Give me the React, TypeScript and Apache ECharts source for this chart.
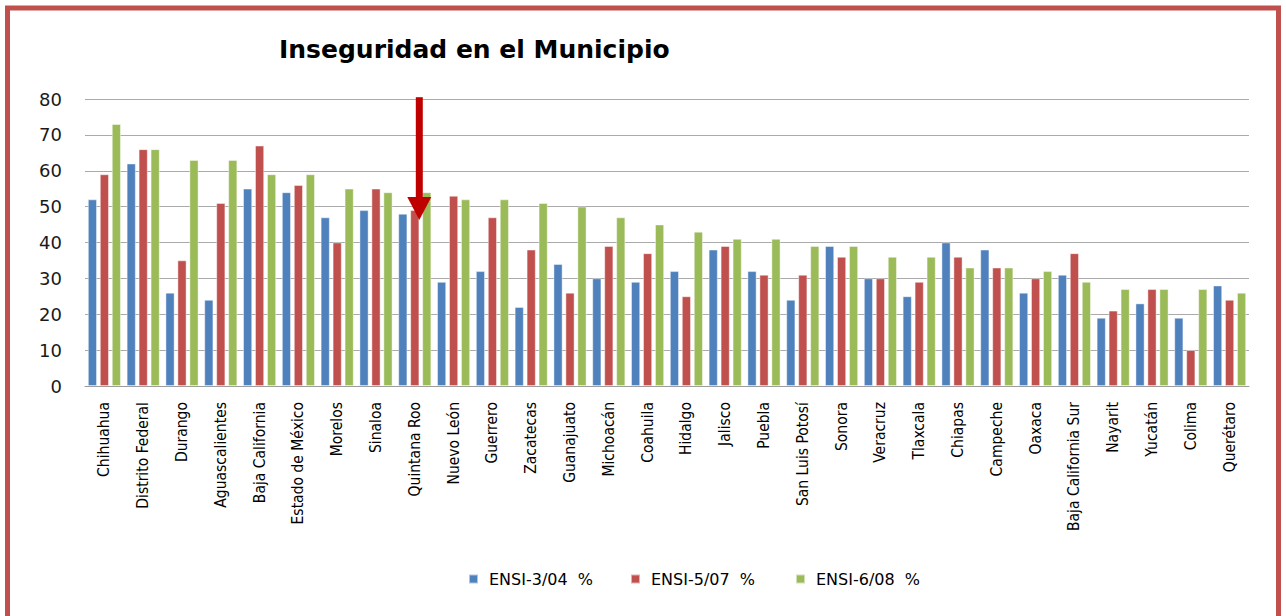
import React, { useEffect, useRef } from "react";
import * as echarts from "echarts";

const categories = [
  "Chihuahua", "Distrito Federal", "Durango", "Aguascalientes", "Baja California",
  "Estado de México", "Morelos", "Sinaloa", "Quintana Roo", "Nuevo León",
  "Guerrero", "Zacatecas", "Guanajuato", "Michoacán", "Coahuila",
  "Hidalgo", "Jalisco", "Puebla", "San Luis Potosí", "Sonora",
  "Veracruz", "Tlaxcala", "Chiapas", "Campeche", "Oaxaca",
  "Baja California Sur", "Nayarit", "Yucatán", "Colima", "Querétaro",
];
const ensi304 = [52, 62, 26, 24, 55, 54, 47, 49, 48, 29, 32, 22, 34, 30, 29, 32, 38, 32, 24, 39, 30, 25, 40, 38, 26, 31, 19, 23, 19, 28];
const ensi507 = [59, 66, 35, 51, 67, 56, 40, 55, 49, 53, 47, 38, 26, 39, 37, 25, 39, 31, 31, 36, 30, 29, 36, 33, 30, 37, 21, 27, 10, 24];
const ensi608 = [73, 66, 63, 63, 59, 59, 55, 54, 54, 52, 52, 51, 50, 47, 45, 43, 41, 41, 39, 39, 36, 36, 33, 33, 32, 29, 27, 27, 27, 26];
const seriesNames = ["ENSI-3/04  %", "ENSI-5/07  %", "ENSI-6/08  %"];
const colors = ["#4F81BD", "#C0504D", "#9BBB59"];
const arrowCategory = "Quintana Roo";

export default function App() {
  const ref = useRef<HTMLDivElement>(null);
  useEffect(() => {
    if (!ref.current) return;
    const chart = echarts.init(ref.current, null, { renderer: "svg" });
    const data = [ensi304, ensi507, ensi608];
    const legendLefts = [463, 625, 790];
    chart.setOption({
      animation: false,
      backgroundColor: "#ffffff",
      title: {
        text: "Inseguridad en el Municipio",
        left: 274,
        top: 32,
        textStyle: { fontFamily: "'DejaVu Sans', Verdana, sans-serif", fontWeight: "bold", fontSize: 25, color: "#000" },
      },
      legend: seriesNames.map((name, i) => ({
        left: legendLefts[i],
        top: 566,
        icon: "rect",
        itemWidth: 9,
        itemHeight: 9,
        data: [name],
        textStyle: { fontFamily: "'DejaVu Sans', Verdana, sans-serif", fontSize: 16, color: "#000", padding: [0, 0, 0, 6] },
      })),
      grid: { left: 85, right: 37, top: 99, bottom: 230, containLabel: false },
      xAxis: {
        type: "category",
        data: categories,
        axisLine: { lineStyle: { color: "#9C9C9C", width: 1 } },
        axisTick: { show: false },
        axisLabel: {
          rotate: 90,
          interval: 0,
          margin: 16,
          fontSize: 15.5,
          color: "#000",
          fontFamily: "'DejaVu Sans Condensed', 'Liberation Sans Narrow', 'Roboto Condensed', 'Noto Sans', sans-serif",
        },
      },
      yAxis: {
        type: "value",
        min: 0,
        max: 80,
        interval: 10,
        axisLine: { show: false },
        axisTick: { show: false },
        splitLine: { lineStyle: { color: "#AAAAAA", width: 1 } },
        axisLabel: { margin: 23, fontSize: 18, color: "#1a1a1a", fontFamily: "'DejaVu Sans', Verdana, sans-serif" },
      },
      series: seriesNames.map((name, i) => ({
        name,
        type: "bar",
        data: data[i],
        barWidth: 9,
        barGap: "33%",
        itemStyle: { color: colors[i], borderColor: "rgba(255,255,255,0.55)", borderWidth: 0.8 },
      })),
    });

    const toPx = (v: number) => chart.convertToPixel({ xAxisIndex: 0, yAxisIndex: 0 }, [arrowCategory, v]) as number[];
    const cx = toPx(0)[0] + 4.5;
    const yTop = toPx(80.5)[1];
    const yBase = toPx(52.7)[1];
    const yTip = toPx(46.3)[1];

    chart.setOption({
      graphic: [
        {
          type: "rect",
          shape: { x: 7.5, y: 8, width: 1271, height: 640 },
          style: { fill: "none", stroke: "#C0504D", lineWidth: 5 },
          silent: true,
          z: 100,
        },
        {
          type: "rect",
          shape: { x: cx - 3.5, y: yTop, width: 7, height: yBase - yTop + 1 },
          style: { fill: "#C00000" },
          z: 100,
        },
        {
          type: "polygon",
          shape: { points: [[cx - 12, yBase], [cx + 12, yBase], [cx, yTip]] },
          style: { fill: "#C00000" },
          z: 100,
        },
      ],
    });
    return () => chart.dispose();
  }, []);
  return <div ref={ref} style={{ position: "fixed", left: 0, top: 0, width: 1286, height: 616 }} />;
}
